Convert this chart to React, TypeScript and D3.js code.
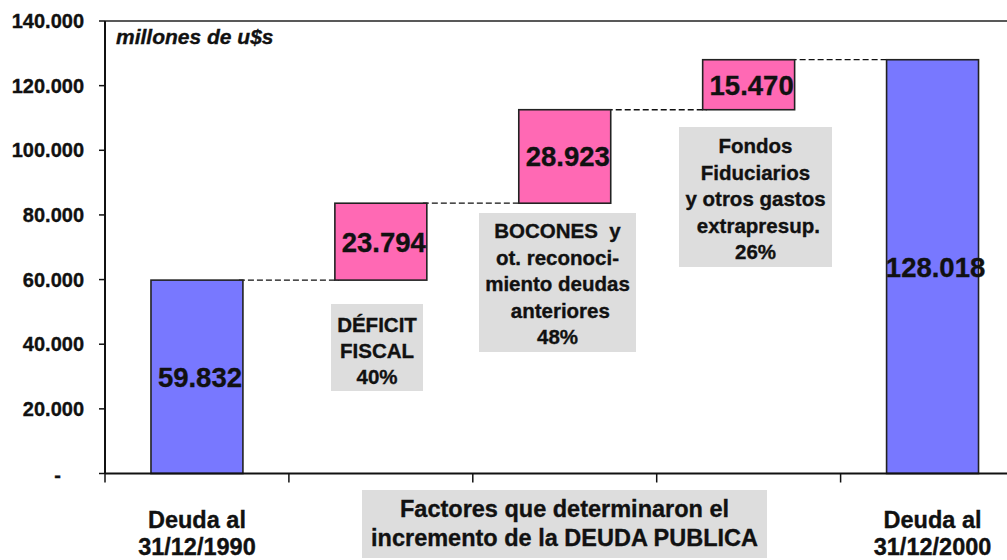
import React from "react";
import * as d3 from "d3";

// ---- data ----
const categories = ["Deuda al|31/12/1990", "DÉFICIT FISCAL", "BOCONES", "Fondos Fiduciarios", "Deuda al|31/12/2000"];
const startValue = 59832;
const increments = [23794, 28923, 15470];
const endValue = 128018;
const yTicks = [0, 20000, 40000, 60000, 80000, 100000, 120000, 140000];
const unitLabel = "millones de u$s";
const factorNotes = [
  ["DÉFICIT", "FISCAL", "40%"],
  ["BOCONES  y", "ot. reconoci-", "miento deudas", " anteriores", "48%"],
  ["Fondos", "Fiduciarios", "y otros gastos", " extrapresup.", "26%"],
];
const middleTitle = ["Factores que determinaron el", "incremento de la DEUDA PUBLICA"];

// ---- layout ----
const W = 1007, H = 560;
const left = 105, top = 21, bottom = 473.5, rightEnd = 1024.5;
const FONT = "'Liberation Sans', Arial, sans-serif";
const BLUE = "#7878FF", PINK = "#FF69B4", GRAY = "#DDDDDD";
const INK = "#111";
const noteBoxes = [
  { x0: 331, x1: 423, y0: 304, y1: 391, y: 325, dy: 26 },
  { x0: 479, x1: 636, y0: 213, y1: 352, y: 231, dy: 26.5 },
  { x0: 679, x1: 832, y0: 127, y1: 267, y: 146, dy: 26.5 },
];

const fmt = d3.formatLocale({ decimal: ",", thousands: ".", grouping: [3], currency: ["", ""] }).format(",");

const heavy = { stroke: INK, strokeWidth: 0.35, fill: INK };

export default function App() {
  const x = d3.scaleBand<string>().domain(categories).range([left, rightEnd]).paddingInner(0.5).paddingOuter(0.25);
  const y = d3.scaleLinear().domain([0, 140000]).range([bottom, top]);
  const step = x.step();

  const bars: { cat: string; v0: number; v1: number; val: number; color: string }[] = [];
  bars.push({ cat: categories[0], v0: 0, v1: startValue, val: startValue, color: BLUE });
  let cum = startValue;
  increments.forEach((inc, i) => {
    bars.push({ cat: categories[i + 1], v0: cum, v1: cum + inc, val: inc, color: PINK });
    cum += inc;
  });
  bars.push({ cat: categories[4], v0: 0, v1: endValue, val: endValue, color: BLUE });

  const bw = x.bandwidth();

  return (
    <svg width={W} height={H} style={{ position: "absolute", left: 0, top: 0, background: "#fff" }} fontFamily={FONT}>
      {/* frame */}
      <line x1={left} x2={W} y1={y(140000)} y2={y(140000)} stroke="#222" strokeWidth={1.5} />
      <line x1={left} x2={left} y1={y(140000)} y2={y(0)} stroke={INK} strokeWidth={2} />
      {/* y ticks */}
      {yTicks.map((t) => (
        <g key={t}>
          <line x1={left - 6} x2={left} y1={y(t)} y2={y(t)} stroke={INK} strokeWidth={1.5} />
          <text
            x={t === 0 ? 61 : 84}
            y={y(t) + (t === 0 ? 1 : 0)}
            dy="0.35em"
            textAnchor="end"
            fontSize={20}
            fontWeight="bold"
            {...heavy}
          >
            {t === 0 ? "-" : fmt(t)}
          </text>
        </g>
      ))}
      <text x={116} y={44} fontSize={21} fontWeight="bold" fontStyle="italic" {...heavy}>{unitLabel}</text>

      {/* connectors */}
      {bars.slice(0, 4).map((b, i) => {
        const nb = bars[i + 1];
        return (
          <line key={"c" + i} x1={(x(b.cat) as number) + bw - 4} x2={(x(nb.cat) as number) + 4} y1={y(b.v1)} y2={y(b.v1)}
            stroke={INK} strokeWidth={1.3} strokeDasharray="6,3" />
        );
      })}

      {/* bars */}
      {bars.map((b) => (
        <g key={b.cat}>
          <rect x={x(b.cat)} y={y(b.v1)} width={bw} height={y(b.v0) - y(b.v1)} fill={b.color} stroke="#222" strokeWidth={1.6} />
          <text x={(x(b.cat) as number) + bw / 2 + 3} y={(y(b.v0) + y(b.v1)) / 2} dy="0.36em" textAnchor="middle"
            fontSize={27.5} fontWeight="bold" {...heavy}>{fmt(b.val)}</text>
        </g>
      ))}

      {/* x axis */}
      <line x1={left} x2={W} y1={y(0)} y2={y(0)} stroke={INK} strokeWidth={2} />
      {d3.range(0, 5).map((i) => (
        <line key={"xt" + i} x1={left + i * step} x2={left + i * step} y1={y(0)} y2={y(0) + 9} stroke={INK} strokeWidth={1.5} />
      ))}

      {/* category labels */}
      {[categories[0], categories[4]].map((c) => (
        <text key={c} x={(x(c) as number) + bw / 2} textAnchor="middle" fontSize={23.5} fontWeight="bold" {...heavy}>
          {c.split("|").map((ln, j) => (
            <tspan key={j} x={(x(c) as number) + bw / 2} y={528 + j * 27}>{ln}</tspan>
          ))}
        </text>
      ))}

      {/* note boxes */}
      {factorNotes.map((lines, i) => {
        const bx = noteBoxes[i];
        const cx = (bx.x0 + bx.x1) / 2;
        return (
          <g key={"n" + i}>
            <rect x={bx.x0} y={bx.y0} width={bx.x1 - bx.x0} height={bx.y1 - bx.y0} fill={GRAY} />
            {lines.map((ln, j) => (
              <text key={j} x={cx} y={bx.y + j * bx.dy} dy="0.35em" textAnchor="middle" fontSize={20.5} fontWeight="bold"
                {...heavy} style={{ whiteSpace: "pre" }}>{ln}</text>
            ))}
          </g>
        );
      })}

      {/* middle title */}
      <rect x={362} y={490} width={405} height={68} fill={GRAY} />
      {middleTitle.map((ln, j) => (
        <text key={j} x={564.5} y={509 + j * 29} dy="0.35em" textAnchor="middle" fontSize={23.5} fontWeight="bold" {...heavy}>{ln}</text>
      ))}
    </svg>
  );
}
